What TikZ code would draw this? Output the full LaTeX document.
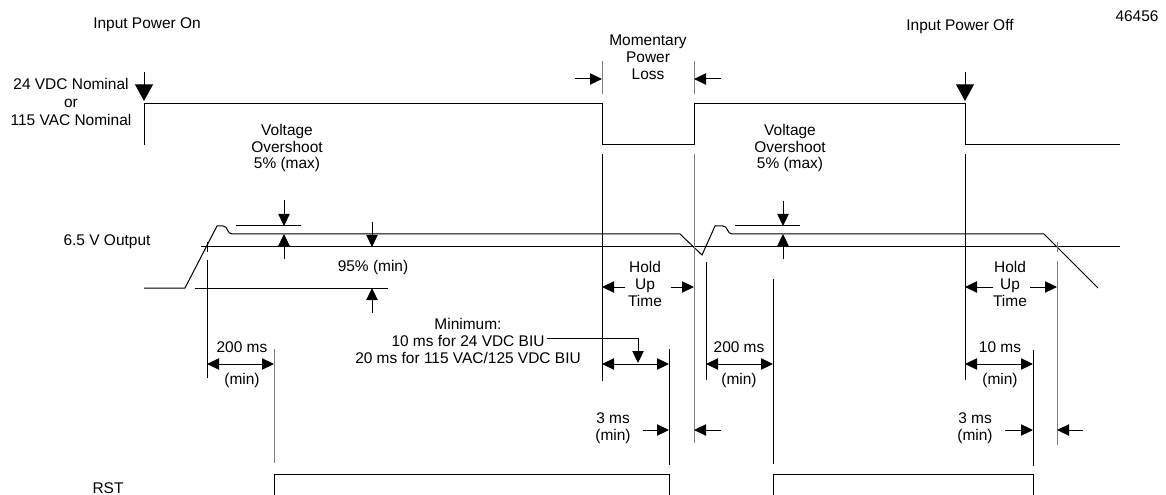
\documentclass[tikz,border=0pt]{standalone}
\usepackage{fontspec}
\setmainfont{Liberation Sans}
\usetikzlibrary{arrows.meta}

\begin{document}
\begin{tikzpicture}[x=0.75pt,y=-0.75pt,line width=0.75pt,
    font=\fontsize{11.6}{12.6}\selectfont,
    lbl/.style={align=center,inner sep=0pt},
    tip/.style={-{Triangle[length=9pt,width=8.5pt]}},
    bigtip/.style={-{Triangle[length=12.5pt,width=13.5pt]}},
    dim/.style={{Triangle[length=9pt,width=8.5pt]}-{Triangle[length=9pt,width=8.5pt]}},
    guide/.style={draw=black!50}]
  \useasboundingbox (0,0) rectangle (1166,495);

  % titles
  \node[lbl] (on) at (147,25) {Input Power On};
  \node[lbl] (off) at (960,27) {Input Power Off};
  \node[lbl] (fig) at (1137,16) {46456};
  \node[lbl,font=\fontsize{11.6}{13.5}\selectfont] (nominal) at (71,102) {24 VDC Nominal\\or\\115 VAC Nominal};
  \node[lbl] (outlbl) at (107,242) {6.5 V Output};
  \node[lbl] (rstlbl) at (108,488) {RST};

  % input power
  \draw (144,145) -- (144,104) -- (602,104) -- (602,145) -- (694,145) -- (694,104)
        -- (965,104) -- (965,145) -- (1120,145);
  \draw[bigtip] (144,72) -- (144,101);
  \draw[bigtip] (965,72) -- (965,101);

  % momentary power loss
  \node[lbl] (loss) at (648,57) {Momentary\\Power\\Loss};
  \draw[guide] (602,61) -- (602,94);
  \draw[guide] (694,61) -- (694,94);
  \draw[tip] (575,79) -- (602,79);
  \draw[tip] (721,79) -- (694,79);

  % 6.5 V output
  \draw (144,288) -- (185,288) -- (217,226) -- (223,226) .. controls (228,226) and (227,234) .. (232,234)
        -- (680,234) -- (702,255) -- (715,226) -- (723,226) .. controls (728,226) and (727,234) .. (732,234)
        -- (1044,234) -- (1098,288);
  \draw (236,226) -- (301,226);
  \draw (735,226) -- (800,226);
  \draw (201,247) -- (1120,247);
  \draw (195,288) -- (388,288);

  % overshoot and 95 %
  \node[lbl] (over1) at (287,148) {Voltage\\Overshoot\\5\% (max)};
  \node[lbl] (over2) at (790,148) {Voltage\\Overshoot\\5\% (max)};
  \draw[tip] (284,200) -- (284,226);
  \draw[tip] (284,259) -- (284,234);
  \draw[tip] (783,201) -- (783,226);
  \draw[tip] (783,259) -- (783,234);
  \node[lbl] (pct) at (373,267) {95\% (min)};
  \draw[tip] (372,222) -- (372,247);
  \draw[tip] (372,313) -- (372,288);

  % timing verticals
  \draw (602,154) -- (602,381);
  \draw[guide] (694,154) -- (694,443);
  \draw (965,154) -- (965,380);
  \draw (207,242) -- (207,252);
  \draw (207,260) -- (207,378);
  \draw[guide] (1057,242) -- (1057,252);
  \draw[guide] (1057,261) -- (1057,445);
  \draw (706,262) -- (706,380);
  \draw (773,279) -- (773,464);
  \draw[guide] (274,349) -- (274,463);
  \draw (669,349) -- (669,465);
  \draw (1033,350) -- (1033,466);

  % hold up time
  \node[lbl] (hold1) at (645,284) {Hold\\Up\\Time};
  \node[lbl] (hold2) at (1010,284) {Hold\\Up\\Time};
  \draw[tip] (625,287) -- (602,287);
  \draw[tip] (671,287) -- (694,287);
  \draw[tip] (993,287) -- (965,287);
  \draw[tip] (1030,287) -- (1057,287);

  % delays
  \node[lbl] (d1) at (242,347) {200 ms};
  \node[lbl] (m1) at (242,380) {(min)};
  \draw[dim] (207,364) -- (274,364);
  \node[lbl] (d2) at (739,347) {200 ms};
  \node[lbl] (m2) at (739,380) {(min)};
  \draw[dim] (706,364) -- (773,364);
  \node[lbl] (d3) at (1000,347) {10 ms};
  \node[lbl] (m3) at (1000,380) {(min)};
  \draw[dim] (965,364) -- (1033,364);
  \node[lbl] (minimum) at (468,341) {Minimum:\\10 ms for 24 VDC BIU\\20 ms for 115 VAC/125 VDC BIU};
  \draw[dim] (602,364) -- (669,364);
  \draw[tip] (547,338) -- (638,338) -- (638,363);

  % 3 ms
  \node[lbl] (t1) at (613,428) {3 ms\\(min)};
  \node[lbl] (t2) at (975,428) {3 ms\\(min)};
  \draw[tip] (643,430) -- (669,430);
  \draw[tip] (721,430) -- (694,430);
  \draw[tip] (1005,430) -- (1033,430);
  \draw[tip] (1083,430) -- (1057,430);

  % RST
  \draw (274,495) -- (274,474) -- (669,474) -- (669,495);
  \draw (773,495) -- (773,474) -- (1033,474) -- (1033,495);
\end{tikzpicture}
\end{document}
